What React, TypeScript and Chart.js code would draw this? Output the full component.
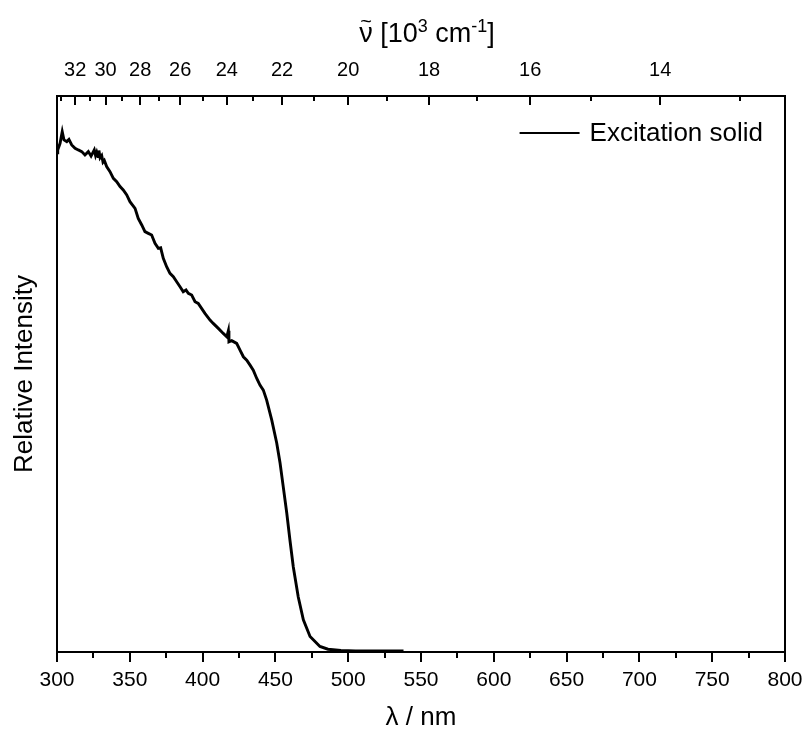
import React, { useEffect, useRef } from 'react';
import { Chart, registerables } from 'chart.js';

Chart.register(...registerables);

// ---- data ----
const wavelengthNm = [
  300.0, 300.5, 302.1, 303.6, 304.8, 306.7, 308.2, 310.1, 312.4, 314.6, 317.0, 319.2, 321.5, 323.4,
  325.6, 326.5, 327.3, 328.2, 328.8, 329.6, 330.7, 331.6, 332.5, 334.1, 336.4, 338.7, 341.0, 343.3,
  345.5, 347.9, 350.1, 353.6, 355.8, 358.2, 360.4, 362.7, 365.0, 367.3, 369.6, 371.2, 373.0, 375.3,
  377.6, 379.9, 382.2, 384.5, 386.7, 388.6, 390.2, 392.5, 394.8, 397.0, 401.6, 405.1, 407.3, 410.8,
  414.2, 416.6, 417.7, 418.1, 420.0, 423.4, 425.7, 428.0, 430.3, 432.6, 434.8, 437.2, 439.4, 441.7,
  444.0, 447.5, 450.9, 453.2, 455.4, 457.8, 460.0, 462.3, 465.7, 469.2, 473.8, 480.6, 486.1, 495.0,
  505.0, 520.0, 538.0,
];
const intensity = [
  0.898, 0.903, 0.915, 0.936, 0.921, 0.918, 0.922, 0.912, 0.906, 0.903, 0.900, 0.894, 0.900, 0.892,
  0.903, 0.893, 0.899, 0.891, 0.902, 0.889, 0.893, 0.881, 0.884, 0.873, 0.864, 0.852, 0.846, 0.837,
  0.831, 0.822, 0.810, 0.798, 0.780, 0.768, 0.756, 0.753, 0.750, 0.735, 0.726, 0.727, 0.708, 0.693,
  0.681, 0.675, 0.666, 0.657, 0.648, 0.651, 0.645, 0.642, 0.630, 0.627, 0.609, 0.597, 0.591, 0.582,
  0.573, 0.567, 0.578, 0.558, 0.560, 0.555, 0.543, 0.531, 0.525, 0.516, 0.507, 0.492, 0.480, 0.471,
  0.453, 0.417, 0.376, 0.340, 0.297, 0.250, 0.201, 0.153, 0.099, 0.058, 0.028, 0.010, 0.005, 0.003,
  0.002, 0.002, 0.002,
];
const seriesLabel = 'Excitation solid';
const xTitle = 'λ / nm';
const yTitle = 'Relative Intensity';
const bottomTickStep = 25;
const bottomLabelStep = 50;
const topMajorWavenumbers = [32, 30, 28, 26, 24, 22, 20, 18, 16, 14]; // 10^3 cm^-1
const topMinorWavenumbers = [33, 31, 29, 27, 25, 23, 21, 19, 17, 15, 13];
const topTitleSymbol = 'ν';
const topTitleTilde = '~';
const topTitleParts = [
  { text: ' [10', sup: false },
  { text: '3', sup: true },
  { text: ' cm', sup: false },
  { text: '-1', sup: true },
  { text: ']', sup: false },
];

const FONT = '"Liberation Sans", Arial, Helvetica, sans-serif';

if (typeof document !== 'undefined') {
  document.body.style.margin = '0';
}

const decorPlugin = {
  id: 'decor',
  afterDraw(chart: any) {
    const { ctx, chartArea: a, scales } = chart;
    ctx.save();
    ctx.strokeStyle = '#000';
    ctx.lineWidth = 2;
    ctx.strokeRect(a.left, a.top, a.right - a.left, a.bottom - a.top);

    // bottom ticks (outward)
    const x = scales.x;
    x.ticks.forEach((t: any) => {
      const px = Math.round(x.getPixelForValue(t.value));
      const major = Math.abs(t.value % bottomLabelStep) < 1e-6;
      ctx.beginPath();
      ctx.moveTo(px, a.bottom);
      ctx.lineTo(px, a.bottom + (major ? 10 : 6));
      ctx.stroke();
    });
    // top ticks (inward)
    const x2 = scales.x2;
    x2.ticks.forEach((t: any) => {
      const px = Math.round(x2.getPixelForValue(t.value));
      const major = t.label !== '' && t.label != null;
      ctx.beginPath();
      ctx.moveTo(px, a.top);
      ctx.lineTo(px, a.top + (major ? 9 : 5));
      ctx.stroke();
    });

    // legend
    const ds = chart.data.datasets[0];
    ctx.font = `26px ${FONT}`;
    ctx.fillStyle = '#000';
    ctx.textBaseline = 'middle';
    ctx.textAlign = 'left';
    const tw = ctx.measureText(ds.label).width;
    const textX = a.right - 22 - tw;
    const ly = a.top + 37;
    ctx.strokeStyle = ds.borderColor;
    ctx.lineWidth = 2;
    ctx.beginPath();
    ctx.moveTo(textX - 70, ly);
    ctx.lineTo(textX - 10, ly);
    ctx.stroke();
    ctx.fillText(ds.label, textX, ly + 1);

    // top axis title with tilde and superscripts
    ctx.textBaseline = 'alphabetic';
    const big = `27px ${FONT}`;
    const small = `18px ${FONT}`;
    ctx.font = big;
    const symW = ctx.measureText(topTitleSymbol).width;
    let total = symW;
    const widths = topTitleParts.map((p) => {
      ctx.font = p.sup ? small : big;
      const w = ctx.measureText(p.text).width;
      total += w;
      return w;
    });
    let cx = (a.left + a.right) / 2 + 6 - total / 2;
    const base = 42;
    ctx.font = big;
    ctx.fillText(topTitleSymbol, cx, base);
    ctx.font = `20px ${FONT}`;
    ctx.textAlign = 'center';
    ctx.fillText(topTitleTilde, cx + symW / 2, base - 14);
    ctx.textAlign = 'left';
    cx += symW;
    topTitleParts.forEach((p, i) => {
      ctx.font = p.sup ? small : big;
      ctx.fillText(p.text, cx, p.sup ? base - 10 : base);
      cx += widths[i];
    });
    ctx.restore();
  },
};

export default function App() {
  const ref = useRef<HTMLCanvasElement | null>(null);
  useEffect(() => {
    if (!ref.current) return;
    document.body.style.margin = '0';
    const chart = new Chart(ref.current, {
      type: 'line',
      data: {
        datasets: [
          {
            label: seriesLabel,
            data: wavelengthNm.map((w, i) => ({ x: w, y: intensity[i] })),
            borderColor: '#000',
            borderWidth: 2.9,
            pointRadius: 0,
            tension: 0,
            fill: false,
            xAxisID: 'x',
            yAxisID: 'y',
          },
        ],
      },
      options: {
        responsive: false,
        animation: false,
        devicePixelRatio: 1,
        layout: { padding: { left: 0, right: 18, top: 0, bottom: 0 } },
        plugins: { legend: { display: false }, tooltip: { enabled: false } },
        scales: {
          x: {
            type: 'linear',
            position: 'bottom',
            min: 300,
            max: 800,
            grid: { display: false, drawTicks: false },
            border: { display: false },
            ticks: {
              stepSize: bottomTickStep,
              autoSkip: false,
              maxRotation: 0,
              minRotation: 0,
              padding: 16,
              color: '#000',
              font: { family: FONT, size: 21 },
              callback: (v: any) => (Math.abs(v % bottomLabelStep) < 1e-6 ? String(v) : ''),
            },
            title: {
              display: true,
              text: xTitle,
              color: '#000',
              font: { family: FONT, size: 26, lineHeight: 1 },
              padding: { top: 0, bottom: 6 },
            },
            afterFit: (s: any) => {
              s.height = 85;
              s.paddingLeft = 0;
              s.paddingRight = 0;
            },
          },
          x2: {
            type: 'linear',
            position: 'top',
            min: 300,
            max: 800,
            grid: { display: false, drawTicks: false },
            border: { display: false },
            afterBuildTicks: (s: any) => {
              s.ticks = [...topMajorWavenumbers, ...topMinorWavenumbers]
                .map((w) => 10000 / w)
                .sort((p, q) => p - q)
                .map((v) => ({ value: v }));
            },
            ticks: {
              autoSkip: false,
              maxRotation: 0,
              minRotation: 0,
              padding: 14,
              color: '#000',
              font: { family: FONT, size: 20 },
              callback: (v: any) => {
                const w = Math.round(10000 / v);
                return topMajorWavenumbers.includes(w) ? String(w) : '';
              },
            },
            afterFit: (s: any) => {
              s.height = 96;
              s.paddingLeft = 0;
              s.paddingRight = 0;
            },
          },
          y: {
            type: 'linear',
            min: 0,
            max: 1,
            grid: { display: false, drawTicks: false },
            border: { display: false },
            ticks: { display: false },
            title: {
              display: true,
              text: yTitle,
              color: '#000',
              font: { family: FONT, size: 26, lineHeight: 1 },
              padding: { top: 12, bottom: 0 },
            },
            afterFit: (s: any) => {
              s.width = 57;
              s.paddingTop = 0;
              s.paddingBottom = 0;
            },
          },
        },
      },
      plugins: [decorPlugin],
    } as any);
    return () => chart.destroy();
  }, []);
  return <canvas ref={ref} width={803} height={737} style={{ display: 'block' }} />;
}
